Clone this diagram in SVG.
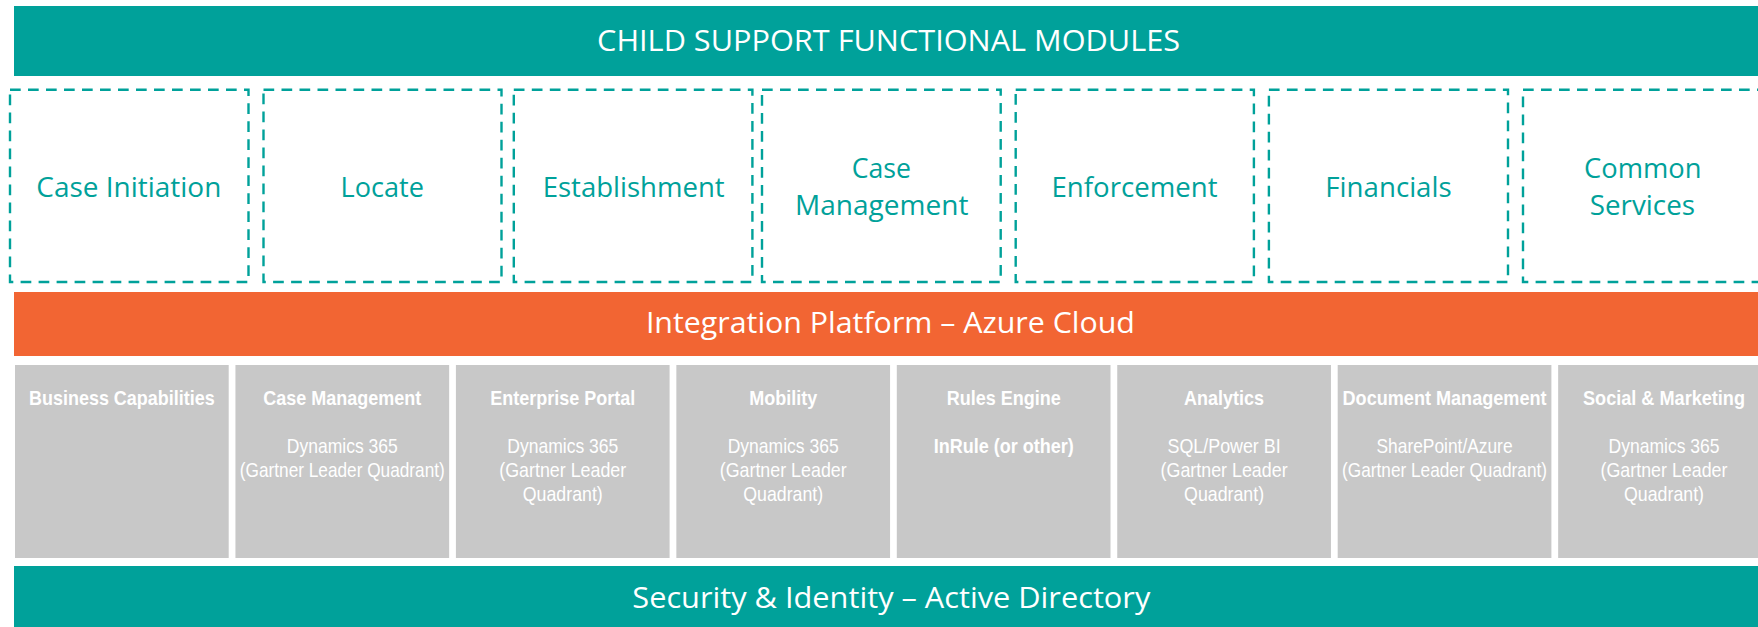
<svg xmlns="http://www.w3.org/2000/svg" width="1758" height="627" viewBox="0 0 1758 627">
<style>
.teal{fill:#00A19A}
.orange{fill:#F26533}
.gray{fill:#C8C8C8}
.dash{fill:none;stroke:#00A19A;stroke-width:2.4;stroke-dasharray:10.7 7.3}
.band{font-family:"Segoe UI","Open Sans","Noto Sans",sans-serif;font-size:30px;fill:#FFFFFF;text-anchor:middle}
.mod{font-family:"Segoe UI","Open Sans","Noto Sans",sans-serif;font-size:27px;fill:#00A19A;text-anchor:middle}
.gt{font-family:"Liberation Sans Narrow","Liberation Sans",Arial,sans-serif;font-size:21px;fill:#FFFFFF;text-anchor:middle}
.gb{font-family:"Liberation Sans Narrow","Liberation Sans",Arial,sans-serif;font-size:21px;font-weight:bold;fill:#FFFFFF;text-anchor:middle}
</style>
<rect width="1758" height="627" fill="#FFFFFF"/>

<g id="header">
<rect class="teal" x="14" y="6" width="1744" height="70"/>
<text class="band" x="888.6" y="50.7" textLength="583" lengthAdjust="spacingAndGlyphs">CHILD SUPPORT FUNCTIONAL MODULES</text>
</g>

<g id="mod-case-initiation">
<rect class="dash" x="10" y="89.7" width="238.5" height="192.3"/>
<text class="mod" x="128.8" y="196.7" textLength="185" lengthAdjust="spacingAndGlyphs">Case Initiation</text>
</g>
<g id="mod-locate">
<rect class="dash" x="263.5" y="89.7" width="238" height="192.3"/>
<text class="mod" x="382.3" y="196.7" textLength="83.4" lengthAdjust="spacingAndGlyphs">Locate</text>
</g>
<g id="mod-establishment">
<rect class="dash" x="513.8" y="89.7" width="238.6" height="192.3"/>
<text class="mod" x="633.7" y="196.7" textLength="182" lengthAdjust="spacingAndGlyphs">Establishment</text>
</g>
<g id="mod-case-management">
<rect class="dash" x="762" y="89.7" width="238.7" height="192.3"/>
<text class="mod" x="881.4" y="177.7" textLength="59.3" lengthAdjust="spacingAndGlyphs">Case</text>
<text class="mod" x="881.7" y="215" textLength="173.4" lengthAdjust="spacingAndGlyphs">Management</text>
</g>
<g id="mod-enforcement">
<rect class="dash" x="1015.7" y="89.7" width="238.2" height="192.3"/>
<text class="mod" x="1134.5" y="196.7" textLength="166" lengthAdjust="spacingAndGlyphs">Enforcement</text>
</g>
<g id="mod-financials">
<rect class="dash" x="1268.9" y="89.7" width="239.1" height="192.3"/>
<text class="mod" x="1388.5" y="196.7" textLength="126.3" lengthAdjust="spacingAndGlyphs">Financials</text>
</g>
<g id="mod-common-services">
<rect class="dash" x="1523" y="89.7" width="239.5" height="192.3"/>
<text class="mod" x="1642.8" y="177.7" textLength="117.5" lengthAdjust="spacingAndGlyphs">Common</text>
<text class="mod" x="1642.4" y="215" textLength="105.2" lengthAdjust="spacingAndGlyphs">Services</text>
</g>

<g id="integration-platform">
<rect class="orange" x="14" y="292" width="1744" height="64"/>
<text class="band" x="890.4" y="332.7" textLength="489" lengthAdjust="spacingAndGlyphs">Integration Platform – Azure Cloud</text>
</g>

<g id="cap-business-capabilities">
<rect class="gray" x="15" y="365" width="213.7" height="193"/>
<text class="gb" x="121.85" y="405" textLength="185.6" lengthAdjust="spacingAndGlyphs">Business Capabilities</text>
</g>
<g id="cap-case-management">
<rect class="gray" x="235.45" y="365" width="213.7" height="193"/>
<text class="gb" x="342.3" y="405" textLength="158" lengthAdjust="spacingAndGlyphs">Case Management</text>
<text class="gt" x="342.3" y="453" textLength="111" lengthAdjust="spacingAndGlyphs">Dynamics 365</text>
<text class="gt" x="342.3" y="477" textLength="205" lengthAdjust="spacingAndGlyphs">(Gartner Leader Quadrant)</text>
</g>
<g id="cap-enterprise-portal">
<rect class="gray" x="455.9" y="365" width="213.7" height="193"/>
<text class="gb" x="562.75" y="405" textLength="145" lengthAdjust="spacingAndGlyphs">Enterprise Portal</text>
<text class="gt" x="562.75" y="453" textLength="111" lengthAdjust="spacingAndGlyphs">Dynamics 365</text>
<text class="gt" x="562.75" y="477" textLength="127" lengthAdjust="spacingAndGlyphs">(Gartner Leader</text>
<text class="gt" x="562.75" y="500.5" textLength="80" lengthAdjust="spacingAndGlyphs">Quadrant)</text>
</g>
<g id="cap-mobility">
<rect class="gray" x="676.35" y="365" width="213.7" height="193"/>
<text class="gb" x="783.2" y="405" textLength="68" lengthAdjust="spacingAndGlyphs">Mobility</text>
<text class="gt" x="783.2" y="453" textLength="111" lengthAdjust="spacingAndGlyphs">Dynamics 365</text>
<text class="gt" x="783.2" y="477" textLength="127" lengthAdjust="spacingAndGlyphs">(Gartner Leader</text>
<text class="gt" x="783.2" y="500.5" textLength="80" lengthAdjust="spacingAndGlyphs">Quadrant)</text>
</g>
<g id="cap-rules-engine">
<rect class="gray" x="896.8" y="365" width="213.7" height="193"/>
<text class="gb" x="1003.65" y="405" textLength="114" lengthAdjust="spacingAndGlyphs">Rules Engine</text>
<text class="gb" x="1003.65" y="453" textLength="140" lengthAdjust="spacingAndGlyphs">InRule (or other)</text>
</g>
<g id="cap-analytics">
<rect class="gray" x="1117.25" y="365" width="213.7" height="193"/>
<text class="gb" x="1224.1" y="405" textLength="80" lengthAdjust="spacingAndGlyphs">Analytics</text>
<text class="gt" x="1224.1" y="453" textLength="113" lengthAdjust="spacingAndGlyphs">SQL/Power BI</text>
<text class="gt" x="1224.1" y="477" textLength="127" lengthAdjust="spacingAndGlyphs">(Gartner Leader</text>
<text class="gt" x="1224.1" y="500.5" textLength="80" lengthAdjust="spacingAndGlyphs">Quadrant)</text>
</g>
<g id="cap-document-management">
<rect class="gray" x="1337.7" y="365" width="213.7" height="193"/>
<text class="gb" x="1444.55" y="405" textLength="204" lengthAdjust="spacingAndGlyphs">Document Management</text>
<text class="gt" x="1444.55" y="453" textLength="136" lengthAdjust="spacingAndGlyphs">SharePoint/Azure</text>
<text class="gt" x="1444.55" y="477" textLength="205" lengthAdjust="spacingAndGlyphs">(Gartner Leader Quadrant)</text>
</g>
<g id="cap-social-marketing">
<rect class="gray" x="1558.15" y="365" width="199.85" height="193"/>
<text class="gb" x="1664" y="405" textLength="162" lengthAdjust="spacingAndGlyphs">Social &amp; Marketing</text>
<text class="gt" x="1664" y="453" textLength="111" lengthAdjust="spacingAndGlyphs">Dynamics 365</text>
<text class="gt" x="1664" y="477" textLength="127" lengthAdjust="spacingAndGlyphs">(Gartner Leader</text>
<text class="gt" x="1664" y="500.5" textLength="80" lengthAdjust="spacingAndGlyphs">Quadrant)</text>
</g>

<g id="security-identity">
<rect class="teal" x="14" y="566" width="1744" height="61"/>
<text class="band" x="891.3" y="608" textLength="518" lengthAdjust="spacingAndGlyphs">Security &amp; Identity – Active Directory</text>
</g>
</svg>
